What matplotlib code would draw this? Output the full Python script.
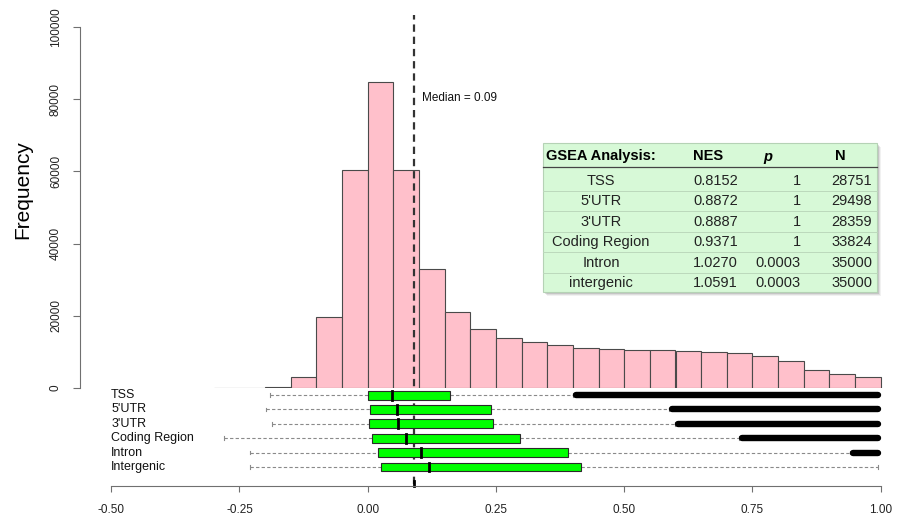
import matplotlib
matplotlib.use("Agg")
import matplotlib.pyplot as plt
from matplotlib.patches import Rectangle

plt.rcParams['font.family'] = ['Liberation Sans', 'DejaVu Sans']

# histogram (bin left edges, width 0.05)
bin_left = [-0.30, -0.25, -0.20, -0.15, -0.10, -0.05, 0.00, 0.05, 0.10, 0.15,
            0.20, 0.25, 0.30, 0.35, 0.40, 0.45, 0.50, 0.55, 0.60, 0.65,
            0.70, 0.75, 0.80, 0.85, 0.90, 0.95]
counts = [0, 0, 300, 2900, 19600, 60500, 84900, 60500, 32900, 21100,
          16400, 13900, 12800, 11900, 11100, 10800, 10400, 10400, 10100, 10000,
          9600, 8700, 7300, 5000, 3800, 3100]
bin_width = 0.05
median_val = 0.09

# boxplots
regions = ["TSS", "5'UTR", "3'UTR", "Coding Region", "Intron", "Intergenic"]
whisk_lo = [-0.19, -0.198, -0.187, -0.281, -0.229, -0.229]
q1 = [0.000, 0.004, 0.003, 0.008, 0.020, 0.025]
med = [0.047, 0.058, 0.060, 0.075, 0.103, 0.120]
q3 = [0.160, 0.240, 0.244, 0.297, 0.390, 0.416]
whisk_hi = [0.40, 0.587, 0.599, 0.724, 0.94, 0.995]
out_lo = [0.40, 0.587, 0.599, 0.724, 0.94, None]
out_hi = [1.0, 1.0, 1.0, 1.0, 1.0, None]

# GSEA table
tbl_header = ["GSEA Analysis:", "NES", "p", "N"]
tbl_names = ["TSS", "5'UTR", "3'UTR", "Coding Region", "Intron", "intergenic"]
tbl_nes = ["0.8152", "0.8872", "0.8887", "0.9371", "1.0270", "1.0591"]
tbl_p = ["1", "1", "1", "1", "0.0003", "0.0003"]
tbl_n = ["28751", "29498", "28359", "33824", "35000", "35000"]

W, H = 897, 522
fig = plt.figure(figsize=(W / 100, H / 100), dpi=100)

def frac(l, t, r, b):
    return [l / W, 1 - b / H, (r - l) / W, (b - t) / H]

X0, PXU = 367.7, 513.0
xlim = ((80 - X0) / PXU, (890 - X0) / PXU)
AX_GRAY = '#707070'

# ---- histogram ----
hist_top, hist_bot = 27.3, 387.7
ax = fig.add_axes(frac(80, hist_top, 890, hist_bot))
ax.bar(bin_left, counts, width=bin_width, align='edge', color='#ffc0cb',
       edgecolor='#4a4a4a', linewidth=0.8)
ax.set_xlim(*xlim)
ax.set_ylim(0, 100000)
for s in ['top', 'right', 'bottom']:
    ax.spines[s].set_visible(False)
ax.spines['left'].set_color(AX_GRAY)
ax.spines['left'].set_bounds(0, 100000)
ax.set_xticks([])
ax.set_yticks(range(0, 100001, 20000))
ax.set_yticklabels([str(v) for v in range(0, 100001, 20000)], rotation=90,
                   va='center', fontsize=8.5, color='#222222')
ax.tick_params(axis='y', length=5, color=AX_GRAY, pad=8)
ax.set_ylabel("Frequency", fontsize=15)
ax.yaxis.set_label_coords((32 - 80) / 810, 0.55)
ax.patch.set_alpha(0)

hh = hist_bot - hist_top
ax.axvline(median_val, ymin=(hist_bot - 484) / hh, ymax=(hist_bot - 15) / hh,
           color='#333333', lw=1.6, ls=(0, (3.3, 2.2)), clip_on=False, zorder=5)
ax.text(median_val + 0.015, 80500, "Median = %.2f" % median_val, fontsize=8.5,
        va='center', ha='left', color='#111111')

# ---- boxplots ----
bx = fig.add_axes(frac(80, 388, 890, 486))
bx.set_xlim(*xlim)
bx.set_ylim(-0.32, 6.49)
bx.patch.set_alpha(0)
for s in ['top', 'right', 'left']:
    bx.spines[s].set_visible(False)
bx.spines['bottom'].set_color(AX_GRAY)
bx.spines['bottom'].set_bounds(-0.5, 1.0)
ticks = [-0.5, -0.25, 0.0, 0.25, 0.5, 0.75, 1.0]
bx.set_xticks(ticks)
bx.set_xticklabels(["%.2f" % t for t in ticks], fontsize=8.5, color='#222222')
bx.tick_params(axis='x', length=4, color=AX_GRAY, pad=9)
bx.set_yticks([])

bh = 0.31
cap_off = 0.006  # round line caps stick out by half the line width
for i, name in enumerate(regions):
    y = len(regions) - i
    wl = dict(color='#8a8a8a', lw=0.8, ls=(0, (3, 2)))
    bx.plot([whisk_lo[i], q1[i]], [y, y], **wl)
    bx.plot([q3[i], whisk_hi[i]], [y, y], **wl)
    bx.plot([whisk_lo[i]] * 2, [y - 0.12, y + 0.12], color='#8a8a8a', lw=0.8)
    bx.plot([whisk_hi[i]] * 2, [y - 0.12, y + 0.12], color='#8a8a8a', lw=0.8)
    bx.add_patch(Rectangle((q1[i], y - bh), q3[i] - q1[i], 2 * bh,
                           facecolor='#00ff00', edgecolor='#2a2a2a', lw=0.8, zorder=3))
    bx.plot([med[i]] * 2, [y - bh, y + bh], color='black', lw=2, zorder=4)
    if out_lo[i] is not None:
        bx.plot([out_lo[i] + cap_off, out_hi[i] - cap_off], [y, y], color='black',
                lw=4.6, solid_capstyle='round', zorder=4)
    bx.text(-0.5, y, name, fontsize=9, va='center', ha='left', color='#111111')

bx.plot([median_val] * 2, [-0.32, 0.05], color='black', lw=2, clip_on=False)

# ---- table overlay (pixel coords) ----
ov = fig.add_axes([0, 0, 1, 1], zorder=10)
ov.set_xlim(0, W)
ov.set_ylim(H, 0)
ov.axis('off')
ov.patch.set_alpha(0)

tl, tt, tr, tb = 543, 143, 877, 292
for k, a in [(4, 0.08), (3, 0.12), (2, 0.18), (1, 0.25)]:
    ov.add_patch(Rectangle((tl + k, tt + k), tr - tl, tb - tt,
                           facecolor='#555555', edgecolor='none', alpha=a))
ov.add_patch(Rectangle((tl, tt), tr - tl, tb - tt, facecolor='#d7f9d7',
                       edgecolor='#b5d2b5', lw=0.8))
ov.plot([tl, tr], [167, 167], color='#444444', lw=0.9)
row_h = 20.5
row0 = 180.7
for j in range(1, len(tbl_names)):
    yl = row0 + (j - 0.5) * row_h
    ov.plot([tl, tr], [yl, yl], color='#bcd8bc', lw=0.7)

fs = 10.5
ov.text(546, 156, tbl_header[0], fontsize=fs, fontweight='bold', va='center', ha='left')
ov.text(693, 156, tbl_header[1], fontsize=fs, fontweight='bold', va='center', ha='left')
ov.text(768, 157, tbl_header[2], fontsize=fs, fontweight='bold', fontstyle='italic',
        va='center', ha='center')
ov.text(840, 156, tbl_header[3], fontsize=fs, fontweight='bold', va='center', ha='center')
for j in range(len(tbl_names)):
    yr = row0 + j * row_h
    ov.text(601, yr, tbl_names[j], fontsize=fs, va='center', ha='center', color='#222222')
    ov.text(693, yr, tbl_nes[j], fontsize=fs, va='center', ha='left', color='#222222')
    ov.text(801, yr, tbl_p[j], fontsize=fs, va='center', ha='right', color='#222222')
    ov.text(872, yr, tbl_n[j], fontsize=fs, va='center', ha='right', color='#222222')

fig.savefig("out.png", dpi=100)
